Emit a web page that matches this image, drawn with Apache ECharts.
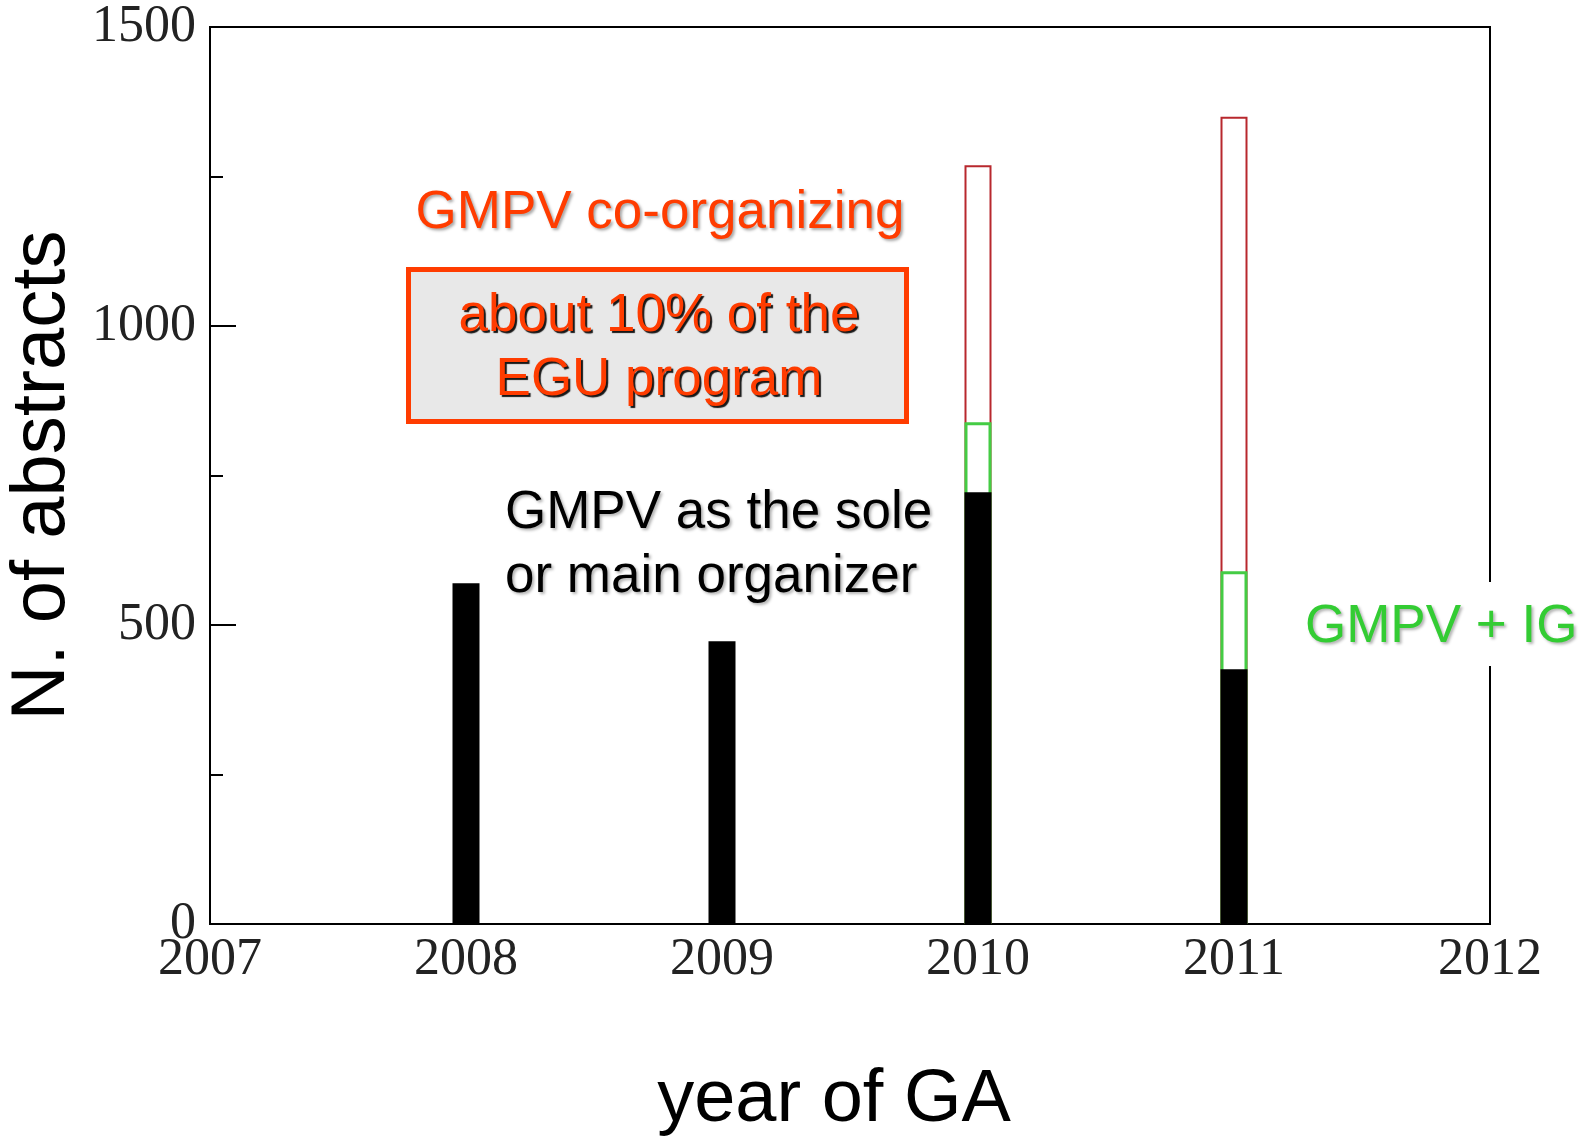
<!DOCTYPE html>
<html>
<head>
<meta charset="utf-8">
<script src="https://cdn.jsdelivr.net/npm/echarts@6/dist/echarts.min.js"></script>
<style>
  html, body { margin: 0; padding: 0; background: #fff; }
  #chart { width: 1589px; height: 1137px; }
</style>
</head>
<body>
<div id="chart"></div>
<script>
// years of the General Assembly
const years = [2008, 2009, 2010, 2011];
// GMPV as the sole or main organizer
const soleMain = [570, 473, 722, 426];
// GMPV + IG (cumulative top)
const withIG = [null, null, 839, 590];
// GMPV co-organizing (cumulative top)
const coOrganizing = [null, null, 1269, 1350];

const pairs = (vals) => years.map((y, i) => [y, vals[i]]).filter(p => p[1] != null);

const chart = echarts.init(document.getElementById("chart"));

const serif = "'Liberation Serif', 'DejaVu Serif', serif";
const sans = "'Liberation Sans', Arial, sans-serif";
const orange = "#ff3c00";

const options = {
  animation: false,
  grid: {
    left: 210,
    right: 99,
    top: 27,
    bottom: 213,
    outerBoundsMode: "none",
    containLabel: false,
    show: true,
    borderColor: "#000",
    borderWidth: 2,
  },
  xAxis: {
    type: "value",
    min: 2007,
    max: 2012,
    interval: 1,
    name: "year of GA",
    nameLocation: "middle",
    nameGap: 140,
    nameTextStyle: { fontFamily: sans, fontSize: 74, color: "#000", padding: [0, 32, 0, 0] },
    axisLine: { lineStyle: { color: "#000", width: 2 } },
    axisTick: { show: false },
    splitLine: { show: false },
    axisLabel: { fontFamily: serif, fontSize: 52, color: "#222", margin: 10, formatter: (v) => String(v) },
  },
  yAxis: {
    type: "value",
    min: 0,
    max: 1500,
    interval: 500,
    name: "N. of abstracts",
    nameLocation: "middle",
    nameRotate: 90,
    nameGap: 126,
    nameTextStyle: { fontFamily: sans, fontSize: 76, color: "#000" },
    axisLine: { lineStyle: { color: "#000", width: 2 } },
    axisTick: { inside: true, length: 26, lineStyle: { color: "#000", width: 2 } },
    minorTick: { show: true, splitNumber: 2, length: 13, lineStyle: { color: "#000", width: 2 } },
    splitLine: { show: false },
    axisLabel: { fontFamily: serif, fontSize: 52, color: "#222", margin: 14, formatter: (v) => String(v) },
  },
  series: [
    {
      name: "co-organizing",
      type: "bar",
      barWidth: 27,
      barGap: "-100%",
      data: pairs(coOrganizing),
      itemStyle: { color: "#fff", borderColor: "#b8282e", borderWidth: 2 },
    },
    {
      name: "GMPV + IG",
      type: "bar",
      barWidth: 27,
      barGap: "-100%",
      data: pairs(withIG),
      itemStyle: { color: "#fff", borderColor: "#44cc44", borderWidth: 3 },
    },
    {
      name: "sole or main",
      type: "bar",
      barWidth: 27,
      barGap: "-100%",
      data: pairs(soleMain),
      itemStyle: { color: "#000" },
    },
  ],
  graphic: [
    {
      type: "text",
      z: 100,
      style: {
        x: 660, y: 213,
        text: "GMPV co-organizing",
        font: "53px " + sans,
        fill: orange,
        textAlign: "center",
        textVerticalAlign: "middle",
        textShadowColor: "rgba(0,0,0,0.35)",
        textShadowBlur: 3,
        textShadowOffsetX: 2,
        textShadowOffsetY: 2,
      },
    },
    {
      type: "rect",
      z: 100,
      shape: { x: 408.5, y: 269.5, width: 498, height: 152 },
      style: { fill: "#e8e8e8", stroke: orange, lineWidth: 5 },
    },
    {
      type: "text",
      z: 101,
      style: {
        x: 659, y: 348,
        text: "about 10% of the\nEGU program",
        font: "53px " + sans,
        lineHeight: 64,
        fill: orange,
        textAlign: "center",
        textVerticalAlign: "middle",
        textShadowColor: "rgba(0,0,0,0.9)",
        textShadowBlur: 1,
        textShadowOffsetX: 2,
        textShadowOffsetY: 2,
      },
    },
    {
      type: "text",
      z: 100,
      style: {
        x: 505, y: 545,
        text: "GMPV as the sole\nor main organizer",
        font: "53px " + sans,
        lineHeight: 64,
        fill: "#000",
        textAlign: "left",
        textVerticalAlign: "middle",
        textShadowColor: "rgba(0,0,0,0.3)",
        textShadowBlur: 3,
        textShadowOffsetX: 2,
        textShadowOffsetY: 2,
      },
    },
    {
      type: "rect",
      z: 100,
      shape: { x: 1300, y: 582, width: 289, height: 84 },
      style: { fill: "#fff" },
    },
    {
      type: "text",
      z: 101,
      style: {
        x: 1305, y: 627,
        text: "GMPV + IG",
        font: "53px " + sans,
        fill: "#33cc33",
        textAlign: "left",
        textVerticalAlign: "middle",
        textShadowColor: "rgba(0,0,0,0.3)",
        textShadowBlur: 3,
        textShadowOffsetX: 2,
        textShadowOffsetY: 2,
      },
    },
  ],
};

chart.setOption(options);
</script>
</body>
</html>
